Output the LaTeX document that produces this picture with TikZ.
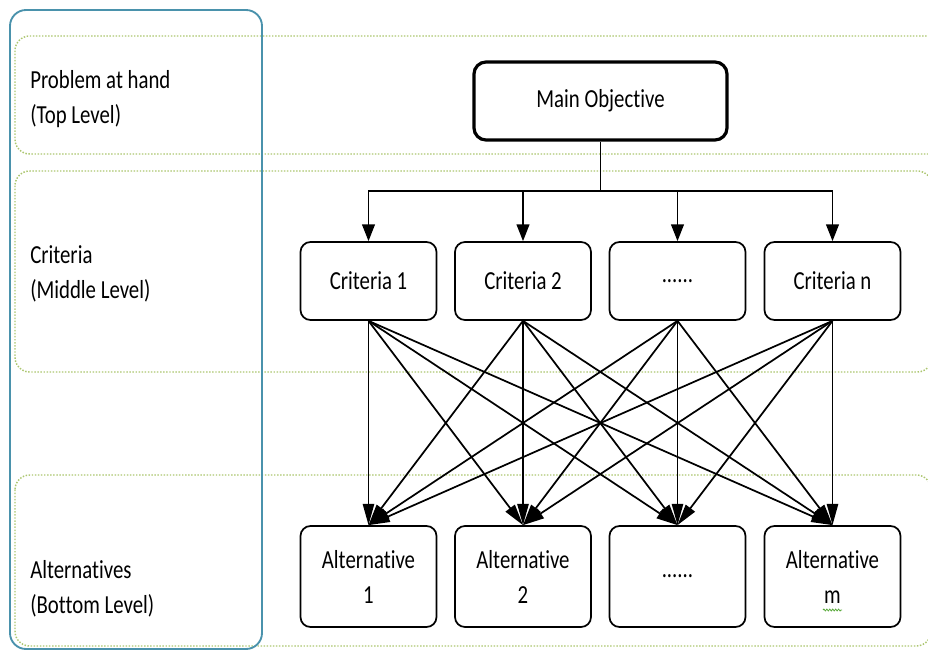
\documentclass[tikz,border=0pt]{standalone}
\usepackage{fontspec}
\setmainfont{Carlito}[Ligatures=NoCommon,FakeStretch=0.8]
\usetikzlibrary{arrows.meta,decorations.pathmorphing}
\definecolor{bandgreen}{RGB}{172,198,112}
\definecolor{frameblue}{RGB}{74,146,172}
\definecolor{spellgreen}{RGB}{90,170,60}
\begin{document}
\begin{tikzpicture}[x=0.75pt,y=-0.75pt,
  font=\fontsize{19.5}{26.25}\selectfont,
  band/.style={draw=bandgreen,line width=1.1pt,dash pattern=on 1.1pt off 1.2pt,rounded corners=11pt},
  frame/.style={draw=frameblue,line width=1.4pt,rounded corners=12pt},
  crit/.style={draw,line width=1.3pt,rounded corners=7.5pt,minimum width=102pt,minimum height=58.5pt,inner sep=0pt,align=center},
  alt/.style={draw,line width=1.3pt,rounded corners=7.5pt,minimum width=102pt,minimum height=75.75pt,inner sep=0pt,align=center},
  mainbox/.style={draw,line width=2.4pt,rounded corners=9pt,minimum width=189.75pt,minimum height=58.5pt,inner sep=0pt},
  lvl/.style={anchor=west,align=left,inner sep=0pt},
  conn/.style={line width=1.3pt},
  toparr/.style={conn,-{Triangle[length=12.5pt,width=9.5pt]}},
  botarr/.style={conn,-{Triangle[length=16pt,width=8.5pt]}}]
\useasboundingbox (0,0) rectangle (928,650);
\begin{scope}
\clip (0,0) rectangle (928,650);
\draw[band] (15,36) rectangle (960,154);
\draw[band] (15,171) rectangle (932,372);
\draw[band] (15,475) rectangle (931,646);
\draw[frame] (10,10) rectangle (262,649);
\end{scope}
% level labels
\node[lvl] (l1) at (30,99) {Problem at hand\\(Top Level)};
\node[lvl] (l2) at (30,274) {Criteria\\(Middle Level)};
\node[lvl] (l3) at (30,589) {Alternatives\\(Bottom Level)};
% nodes
\node[mainbox] (mo) at (600.5,101) {Main Objective};
\node[crit] (c1) at (368.5,281) {Criteria 1};
\node[crit] (c2) at (523,281) {Criteria 2};
\node[crit] (c3) at (677.5,281) {......};
\node[crit] (c4) at (832.5,281) {Criteria n};
\node[alt] (a1) at (368.5,576.5) {Alternative\\1};
\node[alt] (a2) at (523,576.5) {Alternative\\2};
\node[alt] (a3) at (677.5,576.5) {......};
\node[alt] (a4) at (832.5,576.5) {Alternative\\m};
% spell-check squiggle under m
\draw[spellgreen,line width=0.6pt,decorate,decoration={snake,amplitude=0.7pt,segment length=2.2pt}] (823,610) -- (842,610);
% top connectors
\coordinate (bus) at (600.5,191);
\draw[conn] (mo.south) -- (bus);
\foreach \c in {c1,c2,c3,c4}{
  \draw[toparr] (bus) -| (\c.north);
}
% bottom connectors
\foreach \c in {c1,c2,c3,c4}{
  \foreach \a in {a1,a2,a3,a4}{
    \draw[botarr] (\c.south) -- (\a.north);
  }
}
\end{tikzpicture}
\end{document}
